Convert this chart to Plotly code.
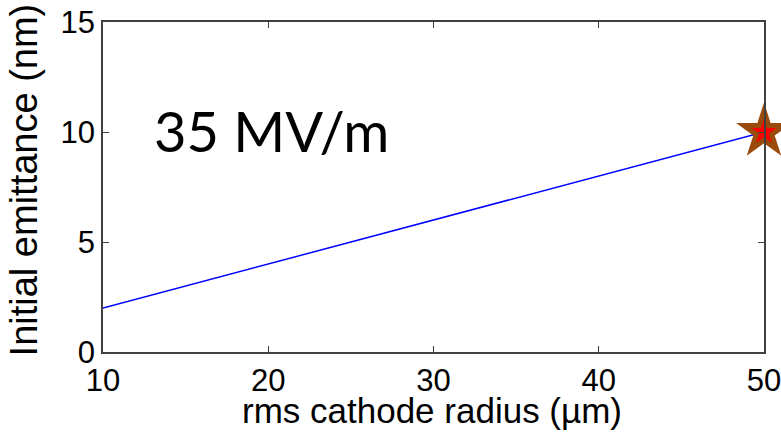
import plotly.graph_objects as go

# Data
radius_um = [10, 15, 20, 25, 30, 35, 40, 45, 50]
emittance_nm = [2.0, 3.0, 4.0, 5.0, 6.0, 7.0, 8.0, 9.0, 10.0]

star_x = [50]
star_y = [10]

x_ticks = [10, 20, 30, 40, 50]
y_ticks = [0, 5, 10, 15]

annotation_text = "35 MV/m"
x_title = "rms cathode radius (\u00b5m)"
y_title = "Initial emittance (nm)"

fig = go.Figure()
fig.add_trace(go.Scatter(
    x=radius_um, y=emittance_nm, mode="lines",
    line=dict(color="#0000FF", width=1.5), showlegend=False, hoverinfo="skip"))
fig.add_trace(go.Scatter(
    x=star_x, y=star_y, mode="markers", cliponaxis=False,
    marker=dict(symbol="star", size=42, color="#9A4A0C", line=dict(width=0)),
    showlegend=False))
fig.add_trace(go.Scatter(
    x=star_x, y=star_y, mode="markers", cliponaxis=False,
    marker=dict(symbol="star", size=19, color="#FF0000", line=dict(width=0)),
    showlegend=False))

fig.add_annotation(
    x=12.98, y=10.08, xref="x", yref="y", text=annotation_text, showarrow=False,
    xanchor="left", yanchor="middle",
    font=dict(family="Lato", size=56, color="black"))

fig.add_annotation(
    x=0.497, y=-0.178, xref="paper", yref="paper", text=x_title, showarrow=False,
    xanchor="center", yanchor="middle",
    font=dict(family="Liberation Sans, Arial", size=35, color="black"))
fig.add_annotation(
    x=-0.1195, y=0.52, xref="paper", yref="paper", text=y_title, showarrow=False,
    xanchor="center", yanchor="middle", textangle=-90,
    font=dict(family="Liberation Sans, Arial", size=38, color="black"))

axis_common = dict(
    showgrid=False, zeroline=False, showline=True, linecolor="#404040", linewidth=1.5,
    mirror="ticks", ticks="inside", ticklen=6, tickwidth=1.2, tickcolor="#404040",
    tickfont=dict(family="Liberation Sans, Arial", size=31, color="black"),
    automargin=False, ticklabeloverflow="allow",
)

fig.update_xaxes(range=[10, 50], tickvals=x_ticks,
                 ticktext=[str(v) for v in x_ticks], **axis_common)
fig.update_yaxes(range=[0, 15], tickvals=y_ticks,
                 ticktext=[str(v) for v in y_ticks], **axis_common)

fig.update_layout(
    width=781, height=434,
    margin=dict(l=103, r=17, t=22, b=82),
    plot_bgcolor="white", paper_bgcolor="white",
    showlegend=False,
)

fig.write_html("out.html", config={"displayModeBar": False},
               post_script="document.body.style.margin='0';")
